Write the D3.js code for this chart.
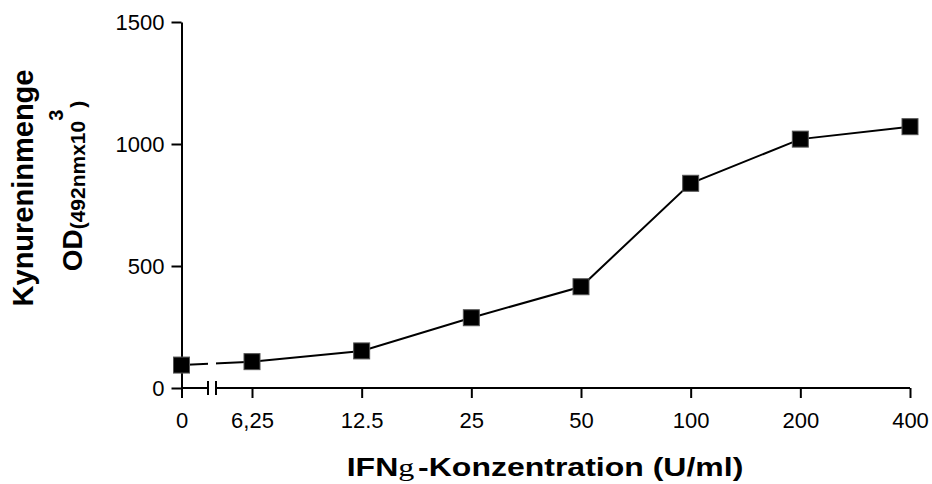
<!DOCTYPE html>
<meta charset="utf-8">
<script src="https://d3js.org/d3.v7.min.js"></script>
<style>
  html, body { margin: 0; padding: 0; background: #fff; }
  svg text { font-family: 'Liberation Sans', Arial, sans-serif; fill: #000; }
</style>
<body>
<div id="chart"></div>
<script>

// data
var doseLabels = ["0", "6,25", "12.5", "25", "50", "100", "200", "400"];
var kynurenine = [94, 108, 152, 288, 415, 839, 1020, 1071];
var yTicks = [0, 500, 1000, 1500];

var width = 932, height = 484;

var svg = d3.select("#chart")
  .append("svg")
    .attr("width", width)
    .attr("height", height);

// y scale
var y = d3.scaleLinear()
  .domain([0, 1500])
  .range([388, 22]);

// x: the "0" dose sits before the axis break, the rest are evenly spaced
var xZero = d3.scalePoint()
  .domain(doseLabels.slice(0, 1))
  .range([181.5, 181.5]);
var xMain = d3.scalePoint()
  .domain(doseLabels.slice(1))
  .range([252, 910]);
function x(label) { return label === "0" ? xZero(label) : xMain(label); }

var breakL = 208, breakR = 216;

// Y axis
var yAxis = svg.append("g")
  .attr("transform", "translate(" + xZero("0") + ",0)")
  .call(d3.axisLeft(y).tickValues(yTicks).tickFormat(d3.format("d"))
    .tickSize(10).tickPadding(7).tickSizeOuter(0));
yAxis.select(".domain").attr("stroke-width", 2);
yAxis.selectAll(".tick line").attr("stroke-width", 2);
yAxis.selectAll(".tick text").style("font-size", "22px");

// X axis (two parts, with break)
var xAxisZero = svg.append("g")
  .attr("transform", "translate(0," + y(0) + ")")
  .call(d3.axisBottom(xZero).tickSize(10).tickPadding(14).tickSizeOuter(0));
var xAxisMain = svg.append("g")
  .attr("transform", "translate(0," + y(0) + ")")
  .call(d3.axisBottom(xMain).tickSize(10).tickPadding(14).tickSizeOuter(0));
[xAxisZero, xAxisMain].forEach(function(g) {
  g.select(".domain").remove();
  g.selectAll(".tick line").attr("stroke-width", 2);
  g.selectAll(".tick text").style("font-size", "22px");
});

var axisLine = svg.append("g").attr("stroke", "#000").attr("stroke-width", 2);
axisLine.append("line")
  .attr("x1", xZero("0")).attr("x2", breakL)
  .attr("y1", y(0)).attr("y2", y(0));
axisLine.append("line")
  .attr("x1", breakR).attr("x2", xMain("400"))
  .attr("y1", y(0)).attr("y2", y(0));
// break marks
[breakL, breakR].forEach(function(bx) {
  axisLine.append("line")
    .attr("x1", bx).attr("x2", bx)
    .attr("y1", y(0) - 7).attr("y2", y(0) + 7);
});

// line with gap at the break
var clip = svg.append("clipPath").attr("id", "gap");
clip.append("rect").attr("x", 0).attr("y", 0).attr("width", breakL).attr("height", height);
clip.append("rect").attr("x", breakR).attr("y", 0).attr("width", width - breakR).attr("height", height);

var points = doseLabels.map(function(d, i) { return {dose: d, value: kynurenine[i]}; });

svg.append("path")
  .datum(points)
  .attr("clip-path", "url(#gap)")
  .attr("fill", "none")
  .attr("stroke", "#000")
  .attr("stroke-width", 2)
  .attr("d", d3.line()
    .x(function(d) { return x(d.dose); })
    .y(function(d) { return y(d.value); }));

var s = 16;
svg.selectAll(".marker")
  .data(points)
  .enter()
  .append("rect")
    .attr("class", "marker")
    .attr("x", function(d) { return x(d.dose) - s / 2; })
    .attr("y", function(d) { return y(d.value) - s / 2; })
    .attr("width", s)
    .attr("height", s)
    .attr("fill", "#000")
    .attr("stroke", "#555")
    .attr("stroke-width", 1);

// X title
var xt = svg.append("text")
  .attr("transform", "translate(545,476) scale(1.28,1)")
  .attr("text-anchor", "middle")
  .style("font-size", "25px")
  .style("font-weight", "bold");
xt.append("tspan").text("IFN");
xt.append("tspan")
  .style("font-family", "'Liberation Serif', serif")
  .style("font-weight", "normal")
  .text("g");
xt.append("tspan").attr("dx", 3).text("-Konzentration (U/ml)");

// Y title
svg.append("text")
  .attr("transform", "translate(33,188) rotate(-90)")
  .attr("text-anchor", "middle")
  .style("font-size", "29px")
  .style("font-weight", "bold")
  .text("Kynureninmenge");

var yt = svg.append("text")
  .attr("transform", "translate(82,186) rotate(-90)")
  .attr("text-anchor", "middle")
  .style("font-weight", "bold");
yt.append("tspan").style("font-size", "28px").text("OD");
yt.append("tspan").style("font-size", "21px").attr("dy", 3).text("(492nmx10");
yt.append("tspan").style("font-size", "20px").attr("dy", -22).text("3");
yt.append("tspan").style("font-size", "21px").attr("dy", 22).attr("dx", 2).text(")");

</script>
</body>
